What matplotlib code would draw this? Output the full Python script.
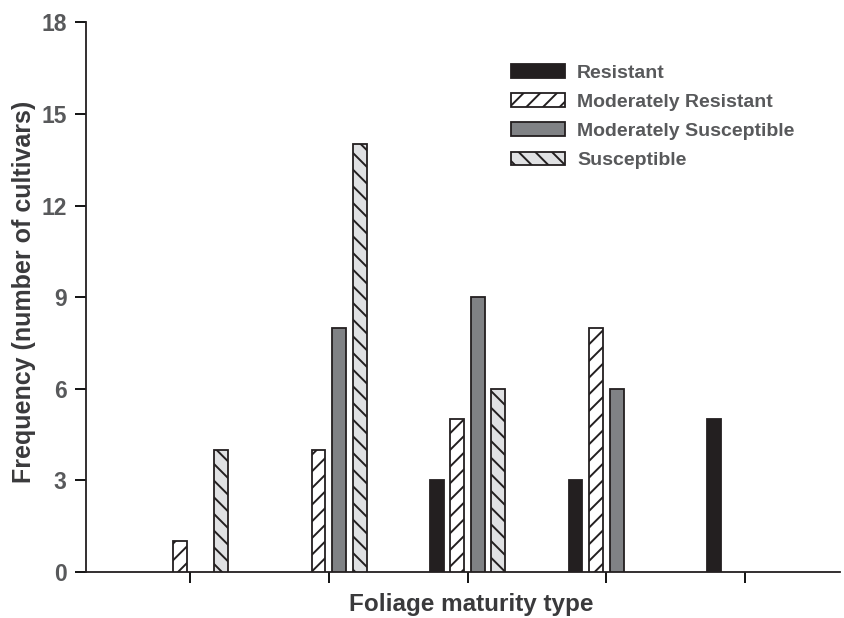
import matplotlib.pyplot as plt
import numpy as np
import matplotlib as mpl

plt.rcParams['font.family'] = ['Liberation Sans', 'DejaVu Sans']
mpl.rcParams['hatch.linewidth'] = 1.4
mpl.rcParams['hatch.color'] = '#231f20'

groups = [1, 2, 3, 4, 5]
series = ["Resistant", "Moderately Resistant", "Moderately Susceptible", "Susceptible"]
resistant = [0, 0, 3, 3, 5]
mod_resistant = [1, 4, 5, 8, 0]
mod_susceptible = [0, 8, 9, 6, 0]
susceptible = [4, 14, 6, 0, 0]
yticks = [0, 3, 6, 9, 12, 15, 18]

values = [resistant, mod_resistant, mod_susceptible, susceptible]
faces = ['#231f20', 'white', '#808285', '#e0e1e3']
hatches = [None, '//', None, '\\\\']

fig = plt.figure(figsize=(8.45, 6.18), dpi=100)
ax = fig.add_axes([0.102, 0.0744, 0.892, 0.8896])

x = np.array(groups, dtype=float)
w = 0.1
step = 0.148
text_col = '#58595b'
label_col = '#3a3a3c'
edge = '#231f20'
handles = []
for i, (vals, fc, h, name) in enumerate(zip(values, faces, hatches, series)):
    v = np.array(vals, dtype=float)
    mask = v > 0
    b = ax.bar(x[mask] + (i - 1.5) * step, v[mask], width=w, color=fc, edgecolor=edge,
               hatch=h, linewidth=1.3, label=name, zorder=3)
    handles.append(b)

ax.set_xlim(0.252, 5.683)
ax.set_ylim(0, 18)
ax.set_yticks(yticks)
ax.set_xticks(groups)
ax.set_xticklabels([])
for s in ['top', 'right']:
    ax.spines[s].set_visible(False)
for s in ['left', 'bottom']:
    ax.spines[s].set_linewidth(1.3)
    ax.spines[s].set_color('#231f20')
ax.tick_params(axis='y', direction='out', length=8, width=1.3, labelsize=16.5, labelcolor=text_col, pad=6)
ax.tick_params(axis='x', direction='out', length=8, width=1.3)
for lab in ax.get_yticklabels():
    lab.set_fontweight('bold')

ax.set_ylabel('Frequency (number of cultivars)', fontsize=18, fontweight='bold', color=label_col)
ax.yaxis.set_label_coords(-0.067, 0.51)
fig.text(0.5575, 1 - 604 / 618, 'Foliage maturity type', fontsize=17.5, fontweight='bold',
         color=label_col, ha='center', va='center')

leg = ax.legend(handles=handles, loc='upper left', bbox_to_anchor=(0.541, 0.956), frameon=False,
                handlelength=2.75, handleheight=0.72, handletextpad=0.62, labelspacing=0.59,
                prop={'weight': 'bold', 'size': 14})
for t in leg.get_texts():
    t.set_color(text_col)

fig.savefig('out.png', dpi=100)
